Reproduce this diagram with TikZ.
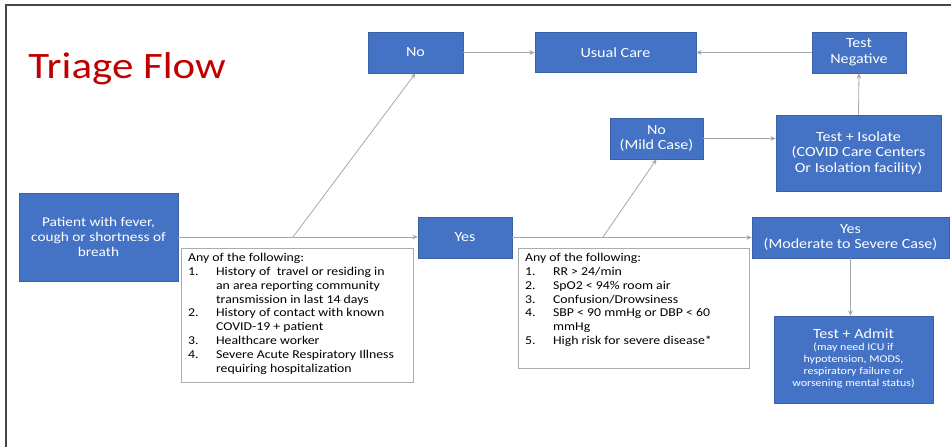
\documentclass[tikz,border=0pt]{standalone}
\usepackage{fontspec}
\setmainfont{Carlito}[FakeStretch=1.15]
\usetikzlibrary{arrows.meta}

\definecolor{boxblue}{RGB}{68,114,196}
\definecolor{titlered}{RGB}{192,0,0}
\definecolor{linegray}{RGB}{165,165,172}
\definecolor{framegray}{RGB}{70,70,70}

\tikzset{every picture/.style={line width=0.75pt}}
\tikzset{
  bluebox/.style={fill=boxblue, draw=boxblue!85!black, line width=0.4pt, text=white, align=center, inner sep=0pt, font=\fontsize{10.5}{11.8}\selectfont},
  listbox/.style={fill=white, draw=gray!65, line width=0.6pt, inner sep=0pt},
  listtext/.style={anchor=north west, inner sep=0pt, align=left, font=\fontsize{9}{10.35}\selectfont},
  flow/.style={draw=linegray, line width=0.6pt, -{Stealth[length=4pt,width=3.5pt]}}
}

\begin{document}
\begin{tikzpicture}[x=0.75pt,y=0.75pt,yscale=-1,xscale=1]
\useasboundingbox (0,0) rectangle (951,447);

%Frame
\draw [framegray, line width=1.4pt] (6,447) -- (6,5) -- (951,5) ;

% Text Node
\node [anchor=base west, inner sep=0pt, text=titlered, font=\fontsize{28}{30}\selectfont] (title) at (28,78) {Triage Flow};

%Shape: Rectangle
\node [bluebox, minimum width=119.25pt, minimum height=66pt, font=\fontsize{10}{11.5}\selectfont] (patient) at (98.5,237) {Patient with fever,\\cough or shortness of\\breath};
%Shape: Rectangle
\node [bluebox, minimum width=71.25pt, minimum height=30.75pt] (no) at (415.5,52.5) {No};
%Shape: Rectangle
\node [bluebox, minimum width=120.75pt, minimum height=30pt] (usual) at (615.5,52.5) {Usual Care};
%Shape: Rectangle
\node [bluebox, minimum width=70.5pt, minimum height=30.75pt] (neg) at (859,52.5) {Test\\Negative};
%Shape: Rectangle
\node [bluebox, minimum width=70.5pt, minimum height=30.75pt] (yes) at (465,237.5) {Yes};
%Shape: Rectangle
\node [bluebox, minimum width=69.75pt, minimum height=30.75pt] (mild) at (656.5,138.5) {No\\(Mild Case)};
%Shape: Rectangle
\node [bluebox, minimum width=123.75pt, minimum height=57pt] (isolate) at (858.5,153) {Test + Isolate\\(COVID Care Centers\\Or Isolation facility)};
%Shape: Rectangle
\node [bluebox, minimum width=147.75pt, minimum height=30.75pt] (severe) at (850.5,237.5) {Yes\\(Moderate to Severe Case)};
%Shape: Rectangle
\node [bluebox, minimum width=119.25pt, minimum height=65.25pt] (admit) at (853.5,359.5) {Test + Admit\\[-3pt]\fontsize{7.8}{9}\selectfont
\begin{tabular}[t]{@{}c@{}}(may need ICU if\\hypotension, MODS,\\respiratory failure or\\worsening mental status)\end{tabular}};

%Shape: Rectangle
\node [listbox, minimum width=174pt, minimum height=100.5pt] (crit1) at (297,315) {};
% Text Node
\node [listtext] (crit1txt) at ([xshift=5.25pt,yshift=3pt]crit1.north west) {%
\begin{tabular}{@{}p{21pt}@{}l@{}}
\multicolumn{2}{@{}l@{}}{Any of the following:}\\
1. & History of\ \ travel or residing in\\
   & an area reporting community\\
   & transmission in last 14 days\\
2. & History of contact with known\\
   & COVID-19 + patient\\
3. & Healthcare worker\\
4. & Severe Acute Respiratory Illness\\
   & requiring hospitalization
\end{tabular}};

%Shape: Rectangle
\node [listbox, minimum width=173.25pt, minimum height=90pt] (crit2) at (633.5,308) {};
% Text Node
\node [listtext] (crit2txt) at ([xshift=5.25pt,yshift=3pt]crit2.north west) {%
\begin{tabular}{@{}p{21pt}@{}l@{}}
\multicolumn{2}{@{}l@{}}{Any of the following:}\\
1. & RR > 24/min\\
2. & SpO2 < 94\% room air\\
3. & Confusion/Drowsiness\\
4. & SBP < 90 mmHg or DBP < 60\\
   & mmHg\\
5. & High risk for severe disease*
\end{tabular}};

%Straight Lines
\coordinate (split1) at (293,237);
\coordinate (split2) at (603,237);
\draw [flow] (patient.east) -- (patient.east -| yes.west);
\draw [flow] (split1) -- (no.south);
\draw [flow] (yes.east) -- (yes.east -| severe.west);
\draw [flow] (split2) -- (mild.south);
\draw [flow] (no.east) -- (usual.west);
\draw [flow] (neg.west) -- (usual.east);
\draw [flow] (mild.east) -- (mild.east -| isolate.west);
\draw [flow] (isolate.north) -- (neg.south);
\draw [flow] (severe.south) -- (severe.south |- admit.north);

\end{tikzpicture}
\end{document}
